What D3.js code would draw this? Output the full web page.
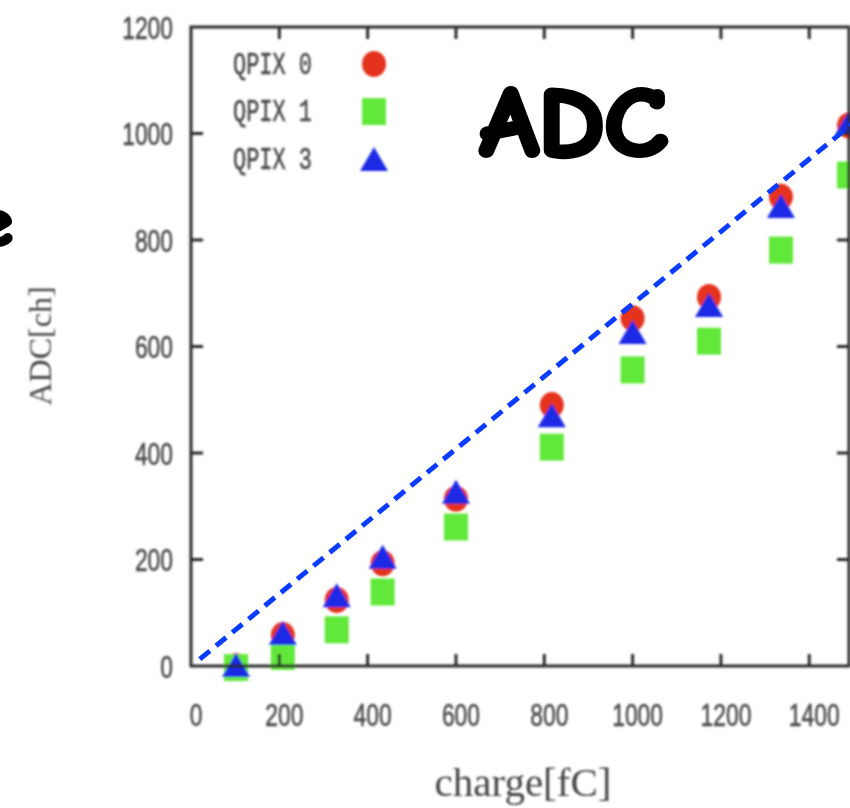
<!DOCTYPE html>
<html lang="en">
    <head>
        <meta charset="utf-8">
        <title>ADC vs charge</title>
        <script src="https://d3js.org/d3.v7.min.js" charset="utf-8"></script>
        <style>
            body {
              margin: 0;
              background: #fff;
            }
            .tick-label {
              font-family: "Liberation Sans", Arial, sans-serif;
              font-size: 32px;
              fill: #4a4a4a;
              stroke: #4a4a4a;
              stroke-width: 0.6px;
            }
            .legend-label {
              font-family: "Liberation Mono", "DejaVu Sans Mono", monospace;
              font-size: 32px;
              fill: #4a4a4a;
              stroke: #4a4a4a;
              stroke-width: 0.6px;
            }
            .axis-title {
              font-family: "Liberation Serif", "Times New Roman", serif;
              fill: #444;
            }
            .overlay {
              font-family: "Comic Sans MS", "Comic Neue", "DejaVu Sans", sans-serif;
              font-weight: bold;
              fill: #000;
              stroke: #000;
              stroke-linejoin: round;
            }
        </style>
    </head>
    <body>
        <div id="chart"></div>
        <script type="text/javascript">
            // datos
            var charge = [102, 208, 330, 434, 600, 817, 1000, 1173, 1336, 1490];
            var qpix0 = [0, 58, 124, 193, 314, 490, 653, 693, 881, 1015];
            var qpix1 = [-3, 18, 68, 139, 261, 411, 556, 610, 781, 922];
            var qpix3 = [2, 62, 133, 205, 327, 471, 627, 678, 864, 1020];
            var seriesNames = ["QPIX 0", "QPIX 1", "QPIX 3"];
            var xTicks = [0, 200, 400, 600, 800, 1000, 1200, 1400];
            var yTicks = [0, 200, 400, 600, 800, 1000, 1200];
            var refLine = [[20, 13], [1500, 1020]];

            var width = 850, height = 808;
            var xScale = d3.scaleLinear().domain([0, 1490]).range([191, 849]);
            var yScale = d3.scaleLinear().domain([0, 1200]).range([666, 27]);

            var colors = ["#e5321f", "#62e83a", "#1f2ae6"];
            var digitW = 12.7;
            var tickLen = 12;

            var svg = d3.select("#chart").append("svg")
                .attr("width", width)
                .attr("height", height);

            var defs = svg.append("defs");
            defs.append("filter").attr("id", "soft")
                .attr("x", "-5%").attr("y", "-5%").attr("width", "110%").attr("height", "110%")
              .append("feGaussianBlur").attr("stdDeviation", 1.1);

            var base = svg.append("g").attr("filter", "url(#soft)");

            // formas de los marcadores
            function marker(g, k) {
                if (k === 0) {
                    g.append("ellipse").attr("rx", 12).attr("ry", 13).attr("fill", colors[0]);
                } else if (k === 1) {
                    g.append("rect").attr("x", -12).attr("y", -13.5)
                        .attr("width", 24).attr("height", 27).attr("fill", colors[1]);
                } else {
                    g.append("path").attr("d", "M0,-12L14,12L-14,12Z").attr("fill", colors[2]);
                }
            }

            // puntos
            [qpix0, qpix1, qpix3].forEach(function(vals, k) {
                base.append("g").selectAll("g")
                    .data(vals)
                    .enter()
                    .append("g")
                    .attr("transform", function(d, i) {
                        return "translate(" + xScale(charge[i]) + "," + yScale(d) + ")";
                    })
                    .each(function() { marker(d3.select(this), k); });
            });

            // marco y ticks (estilo gnuplot)
            var x0 = xScale.range()[0], x1 = xScale.range()[1];
            var y0 = yScale.range()[0], y1 = yScale.range()[1];
            base.append("rect")
                .attr("x", x0).attr("y", y1)
                .attr("width", x1 - x0).attr("height", y0 - y1)
                .attr("fill", "none").attr("stroke", "#2b2b2b").attr("stroke-width", 3);

            var ticks = base.append("g").attr("stroke", "#2b2b2b").attr("stroke-width", 3);
            xTicks.filter(function(d) { return d > 0; }).forEach(function(d) {
                ticks.append("line").attr("x1", xScale(d)).attr("x2", xScale(d))
                    .attr("y1", y0).attr("y2", y0 - tickLen);
                ticks.append("line").attr("x1", xScale(d)).attr("x2", xScale(d))
                    .attr("y1", y1).attr("y2", y1 + tickLen);
            });
            yTicks.filter(function(d) { return d > 0 && d < 1200; }).forEach(function(d) {
                ticks.append("line").attr("x1", x0).attr("x2", x0 + tickLen)
                    .attr("y1", yScale(d)).attr("y2", yScale(d));
                ticks.append("line").attr("x1", x1).attr("x2", x1 - tickLen)
                    .attr("y1", yScale(d)).attr("y2", yScale(d));
            });

            // etiquetas de ticks
            base.selectAll(".xlab")
                .data(xTicks)
                .enter()
                .append("text")
                .attr("class", "tick-label")
                .attr("x", function(d) { return xScale(d) + 5; })
                .attr("y", 726)
                .attr("text-anchor", "middle")
                .attr("textLength", function(d) { return String(d).length * digitW; })
                .attr("lengthAdjust", "spacingAndGlyphs")
                .text(function(d) { return d; });

            base.selectAll(".ylab")
                .data(yTicks)
                .enter()
                .append("text")
                .attr("class", "tick-label")
                .attr("x", 173)
                .attr("y", function(d) { return yScale(d) + 11.5; })
                .attr("text-anchor", "end")
                .attr("textLength", function(d) { return String(d).length * digitW; })
                .attr("lengthAdjust", "spacingAndGlyphs")
                .text(function(d) { return d; });

            // leyenda
            var leyenda = base.selectAll(".leyenda")
                .data(seriesNames)
                .enter()
                .append("g")
                .attr("class", "leyenda")
                .attr("transform", function(d, i) {
                    return "translate(0," + (63 + i * 47.5) + ")";
                });

            leyenda.append("text")
                .attr("class", "legend-label")
                .attr("x", 233)
                .attr("y", 10.5)
                .attr("textLength", 79)
                .attr("lengthAdjust", "spacingAndGlyphs")
                .text(function(d) { return d; });

            leyenda.append("g")
                .attr("transform", "translate(374,1)")
                .each(function(d, i) { marker(d3.select(this), i); });

            // titulos de ejes
            base.append("text")
                .attr("class", "axis-title")
                .attr("transform", "translate(51,346) rotate(-90)")
                .attr("text-anchor", "middle")
                .style("font-size", "32px")
                .text("ADC[ch]");

            base.append("text")
                .attr("class", "axis-title")
                .attr("x", 523)
                .attr("y", 796)
                .attr("text-anchor", "middle")
                .style("font-size", "41px")
                .text("charge[fC]");

            // linea de referencia punteada
            svg.append("path")
                .datum(refLine)
                .attr("d", d3.line()
                    .x(function(d) { return xScale(d[0]); })
                    .y(function(d) { return yScale(d[1]); }))
                .attr("fill", "none")
                .attr("stroke", "#0a3cff")
                .attr("stroke-width", 5)
                .attr("stroke-dasharray", "13,8");

            // textos superpuestos
            svg.append("text")
                .attr("class", "overlay")
                .attr("x", 480)
                .attr("y", 155)
                .attr("textLength", 188)
                .attr("lengthAdjust", "spacingAndGlyphs")
                .style("font-size", "98px")
                .style("stroke-width", "5px")
                .text("ADC");

            svg.append("text")
                .attr("class", "overlay")
                .attr("x", -20)
                .attr("y", 245)
                .style("font-size", "66px")
                .style("stroke-width", "4px")
                .text("e");
        </script>
    </body>
</html>
